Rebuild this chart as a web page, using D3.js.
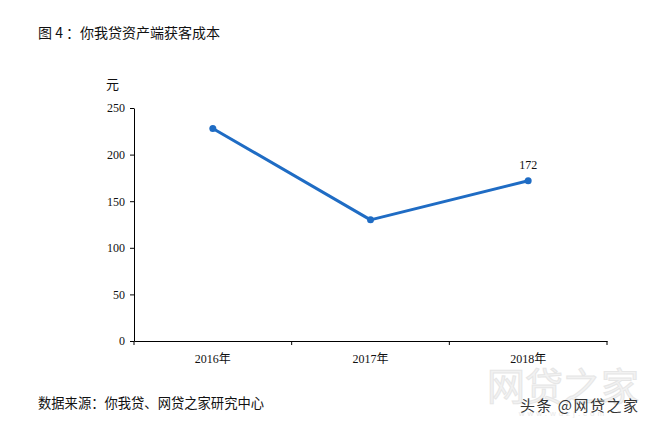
<!DOCTYPE html>
<html><head><meta charset="utf-8">
<script src="https://cdn.jsdelivr.net/npm/d3@7/dist/d3.min.js"></script>
<style>body{margin:0;background:#fff}svg{display:block}</style>
</head><body>
<script>
const categories = ["2016年", "2017年", "2018年"];
const values = [228, 130, 172];
const yTicks = [0, 50, 100, 150, 200, 250];
const labelIndex = [2];

const W = 652, H = 427;
const svg = d3.select("body").append("svg").attr("width", W).attr("height", H);
const cjk = "'Noto Sans CJK SC', 'Noto Sans', sans-serif";
const serif = "'Liberation Serif', 'Noto Sans CJK SC', serif";

const x = d3.scaleBand().domain(categories).range([134, 607]);
const y = d3.scaleLinear().domain([0, 250]).range([341, 108]);

// watermark
svg.append("text").attr("x", 563).attr("y", 400).attr("text-anchor", "middle")
  .style("font-family", cjk).style("font-size", "38px").style("fill", "#f2f2f2")
  .style("stroke", "#e6e6e6").style("stroke-width", 1).text("网贷之家");
svg.append("text").attr("x", 563).attr("y", 416).attr("text-anchor", "middle")
  .style("font-family", "'Liberation Sans', sans-serif").style("font-size", "8px").style("fill", "#e8e8e8")
  .style("letter-spacing", "3px").text("www.wdzj.com");

// title
svg.append("text").attr("x", 38).attr("y", 38).style("font-family", cjk).style("font-size", "14px")
  .style("fill", "#111").text("图 4 ：你我贷资产端获客成本");

// unit
svg.append("text").attr("x", 106).attr("y", 89).style("font-family", cjk).style("font-size", "13px")
  .style("fill", "#111").text("元");

// axes
const yAxis = d3.axisLeft(y).tickValues(yTicks).tickSize(4).tickSizeOuter(0);
const gy = svg.append("g").attr("transform", "translate(134,0)").call(yAxis);
gy.selectAll("text").style("font-family", serif).style("font-size", "12px").style("fill", "#111").attr("x", -9);
gy.selectAll("line, path").attr("stroke", "#000");

const xAxis = d3.axisBottom(x).tickSize(0).tickSizeOuter(0);
const gx = svg.append("g").attr("transform", "translate(0,341)").call(xAxis);
gx.select("path").attr("stroke", "#000");
gx.selectAll("text").style("font-family", serif).style("font-size", "12px").style("fill", "#111").attr("dy", "1.55em");
// category boundary ticks
const bounds = categories.map(c => x(c)).concat([x.range()[1]]);
svg.append("g").selectAll("line").data(bounds).join("line")
  .attr("x1", d => d).attr("x2", d => d).attr("y1", 341).attr("y2", 345).attr("stroke", "#000");

// line
const line = d3.line().x((d, i) => x(categories[i]) + x.bandwidth() / 2).y(d => y(d));
svg.append("path").datum(values).attr("d", line).attr("fill", "none")
  .attr("stroke", "#1f6cc4").attr("stroke-width", 3).attr("stroke-linejoin", "round");
svg.append("g").selectAll("circle").data(values).join("circle")
  .attr("cx", (d, i) => x(categories[i]) + x.bandwidth() / 2).attr("cy", d => y(d))
  .attr("r", 3.5).attr("fill", "#1f6cc4");

// data label
svg.append("g").selectAll("text").data(labelIndex).join("text")
  .attr("x", i => x(categories[i]) + x.bandwidth() / 2).attr("y", i => y(values[i]) - 12)
  .attr("text-anchor", "middle").style("font-family", serif).style("font-size", "12px").style("fill", "#111")
  .text(i => values[i]);

// source
svg.append("text").attr("x", 38).attr("y", 408).style("font-family", cjk).style("font-size", "13.3px")
  .style("fill", "#111").text("数据来源：你我贷、网贷之家研究中心");

// platform tag
svg.append("text").attr("x", 520).attr("y", 411).style("font-family", cjk).style("font-size", "15px")
  .attr("textLength", 118).style("fill", "#333").text("头条 @网贷之家");
</script>
</body></html>
